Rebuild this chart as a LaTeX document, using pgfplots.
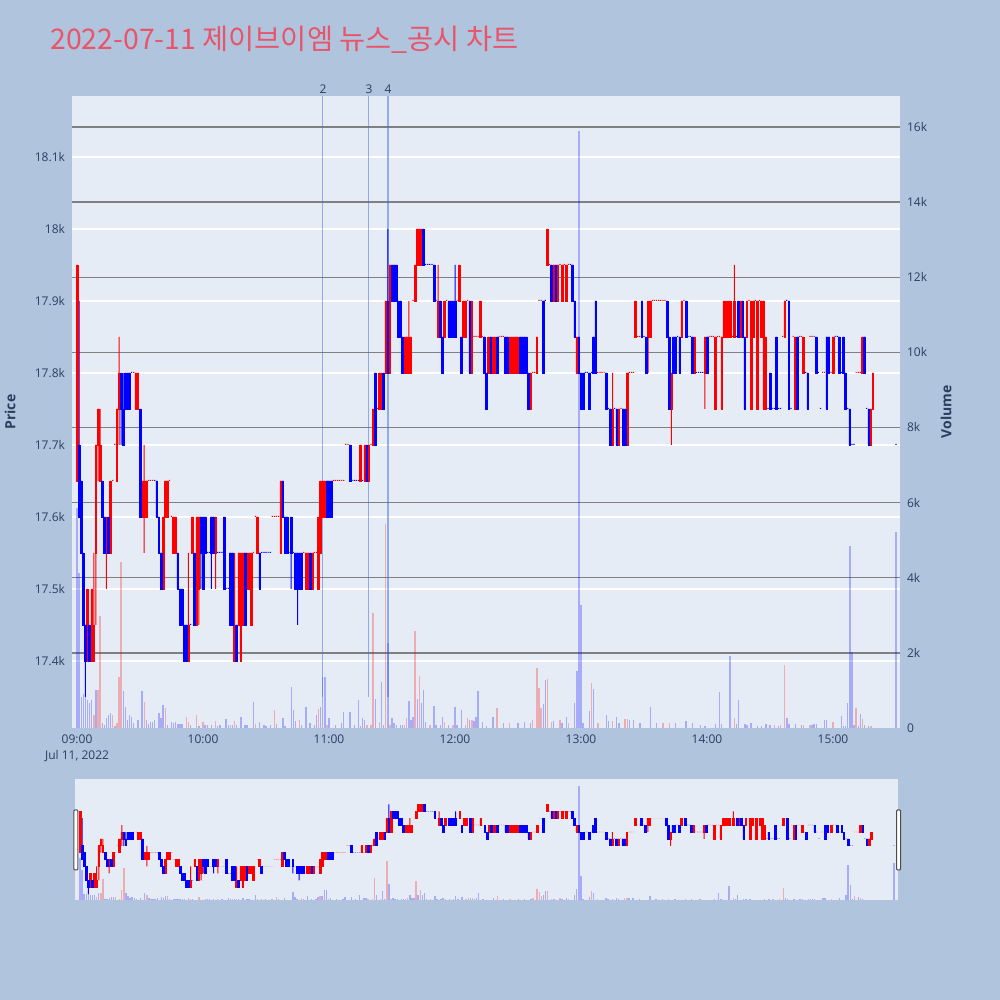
\documentclass[border=0pt]{standalone}
\usepackage{pgfplots}
\pgfplotsset{compat=1.18}
\usepackage{pgfplotstable}
\usepackage{fontspec}
\setmainfont{Open Sans}
\newfontfamily\krfont{Noto Sans CJK KR}
\definecolor{paperbg}{HTML}{B0C4DE}
\definecolor{plotbg}{HTML}{E5ECF6}
\definecolor{tickcol}{HTML}{2A3F5F}
\definecolor{titlecol}{RGB}{232,85,106}
\definecolor{gridgray}{RGB}{128,128,128}
\definecolor{candred}{RGB}{255,0,0}
\definecolor{candblue}{RGB}{0,0,255}
\definecolor{newsblue}{RGB}{65,105,225}

% minute index t (0 = 09:00), open high low close
\pgfplotstableread{
t o h l c
0 17650 17950 17650 17950
5 17400 17500 17400 17500
7 17400 17500 17400 17500
8 17400 17550 17400 17450
9 17550 17700 17450 17700
10 17700 17750 17650 17750
11 17650 17750 17650 17700
14 17550 17600 17500 17600
16 17550 17650 17550 17650
17 17650 17650 17650 17650
18 17700 17700 17700 17700
19 17650 17750 17650 17750
20 17750 17850 17700 17800
27 17800 17800 17800 17800
28 17750 17800 17750 17800
29 17750 17800 17750 17800
31 17600 17650 17600 17650
32 17600 17700 17550 17650
33 17600 17650 17600 17650
34 17650 17650 17650 17650
35 17650 17650 17650 17650
36 17650 17650 17650 17650
41 17500 17600 17500 17600
42 17600 17650 17600 17650
43 17600 17650 17600 17650
44 17650 17650 17650 17650
45 17600 17600 17600 17600
46 17550 17600 17550 17600
47 17550 17600 17550 17600
53 17400 17550 17400 17450
55 17550 17600 17550 17600
57 17450 17600 17450 17600
58 17500 17600 17450 17600
66 17550 17600 17500 17600
75 17400 17550 17400 17450
77 17450 17550 17450 17550
78 17400 17550 17400 17550
79 17450 17550 17450 17550
81 17500 17550 17500 17550
82 17500 17550 17500 17550
83 17450 17550 17450 17550
84 17550 17550 17550 17550
85 17600 17600 17600 17600
86 17550 17600 17550 17600
93 17600 17600 17600 17600
94 17600 17600 17600 17600
95 17600 17600 17600 17600
96 17600 17600 17600 17600
97 17550 17650 17550 17650
108 17550 17550 17550 17550
109 17500 17550 17500 17550
110 17500 17550 17500 17550
112 17500 17550 17500 17550
113 17550 17550 17550 17550
114 17550 17550 17550 17550
115 17500 17600 17500 17600
116 17550 17650 17550 17650
117 17600 17650 17600 17650
118 17600 17650 17600 17650
122 17650 17650 17650 17650
123 17650 17650 17650 17650
124 17650 17650 17650 17650
125 17650 17650 17650 17650
126 17650 17650 17650 17650
127 17650 17650 17650 17650
128 17700 17700 17700 17700
129 17700 17700 17700 17700
135 17650 17700 17650 17700
137 17650 17700 17650 17700
139 17650 17700 17650 17700
140 17700 17700 17700 17700
141 17700 17750 17700 17750
143 17750 17750 17750 17750
144 17750 17800 17750 17800
145 17750 17800 17750 17800
147 17800 17900 17800 17900
149 17800 17950 17800 17950
156 17800 17850 17800 17850
157 17800 17850 17800 17850
158 17800 17900 17800 17850
159 17800 17850 17800 17850
160 17900 17900 17900 17900
161 17900 17950 17900 17950
162 17950 18000 17950 18000
163 17950 18000 17950 18000
164 17950 18000 17950 18000
172 17850 17950 17850 17900
175 17850 17900 17850 17900
176 17900 17900 17900 17900
181 17900 17900 17900 17900
182 17900 17950 17900 17950
184 17850 17900 17850 17900
185 17850 17900 17850 17900
186 17900 17900 17900 17900
188 17800 17900 17800 17900
189 17850 17850 17850 17850
190 17850 17850 17850 17850
191 17850 17850 17850 17850
192 17850 17900 17850 17900
193 17850 17850 17850 17850
196 17800 17850 17800 17850
198 17800 17850 17800 17850
199 17800 17850 17800 17850
201 17850 17850 17850 17850
202 17850 17850 17850 17850
203 17850 17850 17850 17850
206 17800 17850 17800 17850
207 17800 17850 17800 17850
208 17800 17850 17800 17850
209 17800 17850 17800 17850
210 17800 17850 17800 17850
216 17750 17800 17750 17800
217 17800 17800 17800 17800
218 17800 17800 17800 17800
219 17800 17850 17800 17850
220 17900 17900 17900 17900
224 17950 18000 17950 18000
225 17950 17950 17950 17950
227 17900 17950 17900 17950
229 17900 17950 17900 17950
230 17950 17950 17950 17950
231 17900 17950 17900 17950
232 17950 17950 17950 17950
233 17900 17950 17900 17950
234 17950 17950 17950 17950
238 17800 17850 17800 17850
248 17800 17800 17800 17800
249 17800 17800 17800 17800
250 17800 17800 17800 17800
251 17800 17800 17800 17800
255 17700 17800 17700 17750
258 17700 17750 17700 17750
259 17750 17750 17750 17750
262 17700 17800 17700 17800
263 17800 17800 17800 17800
264 17800 17800 17800 17800
265 17800 17800 17800 17800
266 17850 17900 17850 17900
267 17850 17850 17850 17850
268 17850 17850 17850 17850
272 17850 17900 17800 17900
273 17850 17900 17850 17900
274 17900 17900 17900 17900
275 17900 17900 17900 17900
276 17900 17900 17900 17900
277 17900 17900 17900 17900
278 17900 17900 17900 17900
279 17900 17900 17900 17900
280 17900 17900 17900 17900
283 17750 17800 17700 17800
288 17850 17900 17850 17900
289 17900 17900 17900 17900
294 17800 17850 17800 17850
299 17800 17850 17750 17850
301 17850 17850 17850 17850
302 17850 17850 17850 17850
303 17850 17850 17850 17850
304 17750 17850 17750 17850
305 17850 17850 17850 17850
306 17850 17850 17850 17850
307 17750 17850 17750 17850
308 17850 17900 17850 17900
309 17850 17900 17850 17900
310 17850 17900 17850 17900
311 17850 17900 17850 17900
312 17850 17850 17850 17850
313 17850 17950 17850 17900
316 17850 17900 17850 17900
319 17850 17900 17850 17900
320 17900 17900 17900 17900
321 17750 17900 17750 17900
322 17850 17900 17850 17900
323 17900 17900 17900 17900
324 17750 17900 17750 17900
325 17900 17900 17900 17900
326 17850 17900 17850 17900
327 17750 17900 17750 17900
328 17750 17850 17750 17850
336 17850 17850 17850 17850
337 17850 17900 17850 17900
341 17850 17850 17850 17850
342 17750 17850 17750 17850
344 17850 17850 17850 17850
345 17850 17850 17850 17850
346 17800 17850 17800 17850
349 17850 17850 17850 17850
350 17850 17850 17850 17850
355 17800 17800 17800 17800
356 17800 17800 17800 17800
359 17800 17800 17800 17800
360 17800 17850 17800 17850
371 17800 17800 17800 17800
372 17800 17800 17800 17800
373 17800 17800 17800 17800
374 17800 17850 17800 17850
378 17700 17750 17700 17750
379 17750 17800 17750 17800
}\redc

\pgfplotstableread{
t o h l c
1 17700 17900 17600 17600
2 17650 17650 17550 17550
3 17550 17550 17450 17450
4 17450 17450 17350 17400
6 17450 17450 17400 17400
12 17650 17650 17600 17600
13 17600 17600 17550 17550
15 17600 17600 17550 17550
21 17800 17800 17700 17750
22 17750 17800 17700 17700
23 17800 17800 17750 17750
24 17800 17800 17750 17750
25 17800 17800 17750 17750
26 17800 17800 17800 17800
30 17750 17750 17600 17600
37 17650 17650 17650 17650
38 17650 17650 17600 17600
39 17600 17600 17550 17550
40 17550 17550 17500 17500
48 17550 17550 17500 17500
49 17500 17500 17450 17450
50 17500 17500 17450 17450
51 17450 17450 17400 17400
52 17450 17450 17400 17400
54 17450 17450 17450 17450
56 17550 17550 17450 17450
59 17600 17600 17500 17550
60 17600 17600 17500 17500
61 17600 17600 17550 17550
62 17550 17550 17550 17550
63 17550 17550 17550 17550
64 17600 17600 17500 17550
65 17600 17600 17550 17550
67 17550 17550 17550 17550
68 17550 17550 17550 17550
69 17550 17550 17550 17550
70 17600 17600 17500 17500
71 17500 17500 17500 17500
72 17500 17500 17500 17500
73 17550 17550 17450 17450
74 17550 17550 17450 17450
76 17450 17450 17400 17400
80 17550 17550 17450 17450
87 17550 17550 17500 17500
88 17550 17550 17550 17550
89 17550 17550 17550 17550
90 17550 17550 17550 17550
91 17550 17550 17550 17550
92 17550 17550 17550 17550
98 17650 17650 17600 17600
99 17600 17600 17550 17550
100 17600 17600 17550 17550
101 17550 17550 17550 17550
102 17600 17600 17500 17550
103 17550 17550 17550 17550
104 17550 17550 17500 17500
105 17550 17550 17450 17500
106 17550 17550 17500 17500
107 17550 17550 17500 17500
111 17550 17550 17500 17500
119 17650 17650 17600 17600
120 17650 17650 17600 17600
121 17650 17650 17600 17600
130 17700 17700 17650 17650
131 17650 17650 17650 17650
132 17650 17650 17650 17650
133 17650 17650 17650 17650
134 17650 17650 17650 17650
136 17650 17650 17650 17650
138 17700 17700 17650 17650
142 17800 17800 17700 17700
146 17800 17800 17750 17750
148 17900 18000 17800 17800
150 17950 17950 17900 17900
151 17950 17950 17900 17900
152 17950 17950 17900 17900
153 17900 17900 17850 17850
154 17900 17900 17850 17850
155 17850 17850 17800 17800
165 18000 18000 17950 17950
166 17950 17950 17950 17950
167 17950 17950 17950 17950
168 17950 17950 17950 17950
169 17950 17950 17950 17950
170 17950 17950 17900 17900
171 17900 17900 17900 17900
173 17900 17900 17850 17850
174 17850 17850 17800 17800
177 17900 17900 17850 17850
178 17900 17900 17850 17850
179 17900 17900 17850 17850
180 17900 17950 17850 17850
183 17850 17850 17800 17800
187 17900 17900 17800 17800
194 17850 17850 17800 17800
195 17800 17800 17750 17750
197 17850 17850 17800 17800
200 17850 17850 17800 17800
204 17850 17850 17800 17800
205 17850 17850 17800 17800
211 17850 17850 17800 17800
212 17850 17850 17800 17800
213 17850 17850 17800 17800
214 17850 17850 17800 17800
215 17800 17800 17750 17750
221 17900 17900 17900 17900
222 17900 17900 17800 17800
223 17900 17900 17900 17900
226 17950 17950 17900 17900
228 17950 17950 17900 17900
235 17950 17950 17950 17950
236 17950 17950 17900 17900
237 17900 17900 17850 17850
239 17850 17850 17800 17800
240 17800 17800 17750 17750
241 17800 17800 17750 17750
242 17800 17800 17800 17800
243 17800 17800 17800 17800
244 17800 17800 17750 17750
245 17800 17800 17800 17800
246 17850 17850 17800 17800
247 17900 17900 17800 17800
252 17800 17800 17750 17750
253 17750 17750 17750 17750
254 17750 17750 17700 17700
256 17750 17750 17750 17750
257 17750 17750 17700 17700
260 17750 17750 17700 17700
261 17750 17750 17700 17700
269 17900 17900 17850 17850
270 17850 17850 17850 17850
271 17850 17850 17800 17800
281 17900 17900 17850 17850
282 17850 17850 17750 17750
284 17850 17850 17800 17800
285 17850 17850 17800 17800
286 17850 17850 17850 17850
287 17850 17850 17800 17800
290 17900 17900 17850 17850
291 17850 17850 17850 17850
292 17850 17850 17850 17850
293 17850 17850 17800 17800
295 17800 17800 17800 17800
296 17800 17800 17800 17800
297 17800 17800 17800 17800
298 17800 17800 17800 17800
300 17850 17850 17800 17800
314 17850 17850 17850 17850
315 17900 17900 17850 17850
317 17900 17900 17850 17850
318 17850 17850 17750 17750
329 17750 17750 17750 17750
330 17800 17800 17750 17750
331 17750 17750 17750 17750
332 17750 17750 17750 17750
333 17850 17850 17750 17750
334 17750 17750 17750 17750
335 17750 17750 17750 17750
338 17900 17900 17900 17900
339 17900 17900 17750 17750
340 17750 17750 17750 17750
343 17850 17850 17750 17750
347 17800 17800 17800 17800
348 17800 17800 17750 17750
351 17850 17850 17850 17850
352 17850 17850 17800 17800
353 17800 17800 17800 17800
354 17750 17750 17750 17750
357 17850 17850 17750 17750
358 17850 17850 17800 17800
361 17850 17850 17850 17850
362 17850 17850 17850 17850
363 17850 17850 17800 17800
364 17800 17800 17800 17800
365 17850 17850 17800 17800
366 17800 17800 17750 17750
367 17750 17750 17750 17750
368 17750 17750 17700 17700
369 17700 17700 17700 17700
370 17700 17700 17700 17700
375 17850 17850 17800 17800
376 17750 17750 17750 17750
377 17750 17750 17700 17700
390 17700 17700 17700 17700
}\bluec

% volume, red bars
\pgfplotstableread{
t v
8 350
10 1010
11 2980
17 350
19 120
20 1370
21 4430
32 700
42 520
52 280
53 170
57 350
60 150
66 190
73 70
75 190
85 110
94 480
106 210
115 500
119 80
138 70
140 70
141 3070
144 170
147 5430
149 80
156 70
157 260
161 2590
163 1385
168 70
175 150
179 70
185 70
186 260
188 210
200 522
206 141
217 213
219 1587
220 1070
221 530
224 1300
226 160
230 213
234 141
245 1204
248 141
255 192
261 244
262 244
279 141
282 141
313 257
332 71
335 71
337 1678
346 71
349 71
360 170
371 524
374 231
378 40
}\redv

% volume, blue bars
\pgfplotstableread{
t v
0 5850
1 4120
2 830
3 900
4 830
5 750
6 660
7 750
9 1010
12 120
13 70
14 260
15 350
16 390
18 50
22 980
23 560
24 210
25 350
26 280
27 120
29 210
31 990
33 210
34 110
35 150
36 150
37 210
39 400
40 260
41 610
43 80
45 150
46 120
47 170
48 110
49 110
50 110
54 70
58 40
61 70
62 70
64 70
67 40
68 70
71 230
72 70
74 70
76 70
78 300
80 70
81 70
84 700
87 170
89 70
90 40
92 70
95 110
98 257
99 60
102 1083
103 480
104 190
107 80
109 568
111 140
113 80
114 350
116 550
117 1350
118 1350
120 260
123 70
126 140
127 435
130 435
132 80
134 746
135 60
136 260
137 210
142 763
145 1230
146 80
148 2270
150 260
151 120
152 70
154 70
155 70
158 710
159 210
160 300
162 763
164 675
165 1012
166 170
170 586
171 70
173 70
174 300
177 70
180 568
181 70
183 480
187 210
189 190
190 300
191 990
193 170
195 60
198 296
203 141
210 141
213 160
216 141
222 640
223 1278
227 190
231 141
233 296
237 676
238 1518
239 15880
240 3268
241 141
244 450
246 1038
252 346
253 192
257 296
258 141
263 213
265 213
268 141
273 553
276 141
285 141
290 192
293 141
297 71
299 50
304 100
306 967
307 100
311 1917
314 100
315 737
318 100
319 71
321 124
324 50
326 50
328 100
330 71
334 40
338 257
339 100
342 100
345 71
350 71
351 100
352 100
356 213
357 213
364 320
365 50
366 50
367 657
368 4855
369 2032
370 71
372 50
373 373
375 71
377 40
390 5211
}\bluev

% wick: invisible bar up to low, then visible bar from low to high
\newcommand{\wicks}[2]{%
 \addplot[draw=none, fill=none, bar width=0.5pt] table[x=t, y=l] {#1};
 \addplot[fill=#2, draw=none, bar width=0.5pt] table[x=t, y expr={\thisrow{h}-\thisrow{l}}] {#1};
}
% body: invisible bar up to min(open,close), visible bar to max(open,close), then a short narrow dash for dojis
\newcommand{\bodies}[2]{%
 \addplot[draw=none, fill=none, bar width=0.85pt] table[x=t, y expr={min(\thisrow{o},\thisrow{c})}] {#1};
 \addplot[fill=#2, draw=#2, line width=0.35pt, bar width=0.85pt] table[x=t, y expr={abs(\thisrow{c}-\thisrow{o})}] {#1};
 \addplot[fill=#2, draw=none, bar width=0.6pt] table[x=t, y expr={\thisrow{o}==\thisrow{c} ? 1.6 : 0}] {#1};
}
\newcommand{\vols}[2]{%
 \addplot[ycomb, draw=#2, draw opacity=0.27, line width=0.7pt, mark=none, forget plot] table[x=t, y=v] {#1};
}
\pgfplotsset{
  mainpos/.style={at={(36pt,136pt)}, anchor=south west, scale only axis, width=414pt, height=316pt, xmin=-2.4, xmax=391.9, scaled ticks=false},
  slidepos/.style={at={(37.5pt,50pt)}, anchor=south west, scale only axis, width=411.5pt, height=60.5pt, xmin=-2.4, xmax=391.9, scaled ticks=false},
  pricerange/.style={ymin=17306.9, ymax=18184.7},
  volrange/.style={ymin=0, ymax=16825},
  candleaxis/.style={pricerange, hide axis, ybar stacked},
}

\begin{document}
\begin{tikzpicture}
\useasboundingbox (0,0) rectangle (500pt,500pt);
\fill[paperbg] (0,0) rectangle (500pt,500pt);
\fill[plotbg] (36pt,136pt) rectangle (450pt,452pt);
\fill[plotbg] (37.5pt,50pt) rectangle (449pt,110.5pt);

\node[anchor=west, text=titlecol, font=\krfont\fontsize{14.2}{17}\selectfont, inner sep=0pt]
  at (25pt,480pt) {2022-07-11 제이브이엠 뉴스\_공시 차트};

% price axis: grid + ticks
\begin{axis}[mainpos, pricerange,
  axis line style={draw=none}, tick style={draw=none},
  ymajorgrids, major grid style={white, line width=0.55pt},
  ytick={17400,17500,17600,17700,17800,17900,18000,18100},
  yticklabels={17.4k,17.5k,17.6k,17.7k,17.8k,17.9k,18k,18.1k},
  xtick={0,60,120,180,240,300,360},
  xticklabels={{09:00\\Jul 11, 2022},10:00,11:00,12:00,13:00,14:00,15:00},
  ticklabel style={font=\fontsize{6}{8}\selectfont, text=tickcol},
  xticklabel style={align=center},
  /pgf/number format/assume math mode=true]
\addplot[draw=none, mark=none] coordinates {(0,17700)};
\end{axis}

% volume axis
\begin{axis}[mainpos, volrange,
  axis y line*=right, axis x line=none, axis line style={draw=none}, tick style={draw=none},
  ymajorgrids, major grid style={gridgray, line width=0.65pt},
  ytick={2000,4000,6000,8000,10000,12000,14000,16000},
  yticklabels={2k,4k,6k,8k,10k,12k,14k,16k},
  extra y ticks={0}, extra y tick labels={0}, extra y tick style={grid=none},
  ticklabel style={font=\fontsize{6}{8}\selectfont, text=tickcol},
  /pgf/number format/assume math mode=true]
\vols{\redv}{candred}
\vols{\bluev}{candblue}
\end{axis}

% news markers
\begin{axis}[mainpos, pricerange, hide axis]
\addplot[newsblue, draw opacity=0.5, line width=0.55pt] coordinates {(117.1,17350) (117.1,18184.7)};
\addplot[newsblue, draw opacity=0.5, line width=0.55pt] coordinates {(139.0,17350) (139.0,18184.7)};
\addplot[newsblue, draw opacity=0.5, line width=0.55pt] coordinates {(148.1,17350) (148.1,18184.7)};
\coordinate (n2) at (axis cs:117.1,18184.7);
\coordinate (n3) at (axis cs:139.0,18184.7);
\coordinate (n4) at (axis cs:148.1,18184.7);
\end{axis}

% candles (main)
\begin{axis}[mainpos, candleaxis] \wicks{\redc}{candred} \end{axis}
\begin{axis}[mainpos, candleaxis] \wicks{\bluec}{candblue} \end{axis}
\begin{axis}[mainpos, candleaxis] \bodies{\redc}{candred} \end{axis}
\begin{axis}[mainpos, candleaxis] \bodies{\bluec}{candblue} \end{axis}

\foreach \n/\lab in {n2/2,n3/3,n4/4}
  \node[anchor=south, inner sep=0.8pt, text=tickcol, font=\fontsize{6}{7}\selectfont] at (\n) {\lab};

\node[rotate=90, text=tickcol, font=\bfseries\fontsize{7}{8}\selectfont] at (5pt,294pt) {Price};
\node[rotate=90, text=tickcol, font=\bfseries\fontsize{7}{8}\selectfont] at (473pt,294pt) {Volume};

% range slider
\begin{axis}[slidepos, volrange, hide axis]
\vols{\redv}{candred}
\vols{\bluev}{candblue}
\end{axis}
\begin{axis}[slidepos, candleaxis] \wicks{\redc}{candred} \end{axis}
\begin{axis}[slidepos, candleaxis] \wicks{\bluec}{candblue} \end{axis}
\begin{axis}[slidepos, candleaxis] \bodies{\redc}{candred} \end{axis}
\begin{axis}[slidepos, candleaxis] \bodies{\bluec}{candblue} \end{axis}
\filldraw[fill=white, draw=black!70, line width=0.5pt, rounded corners=0.5pt] (36.9pt,65pt) rectangle (38.9pt,95pt);
\filldraw[fill=white, draw=black!70, line width=0.5pt, rounded corners=0.5pt] (448.3pt,65pt) rectangle (450.3pt,95pt);
\end{tikzpicture}
\end{document}
